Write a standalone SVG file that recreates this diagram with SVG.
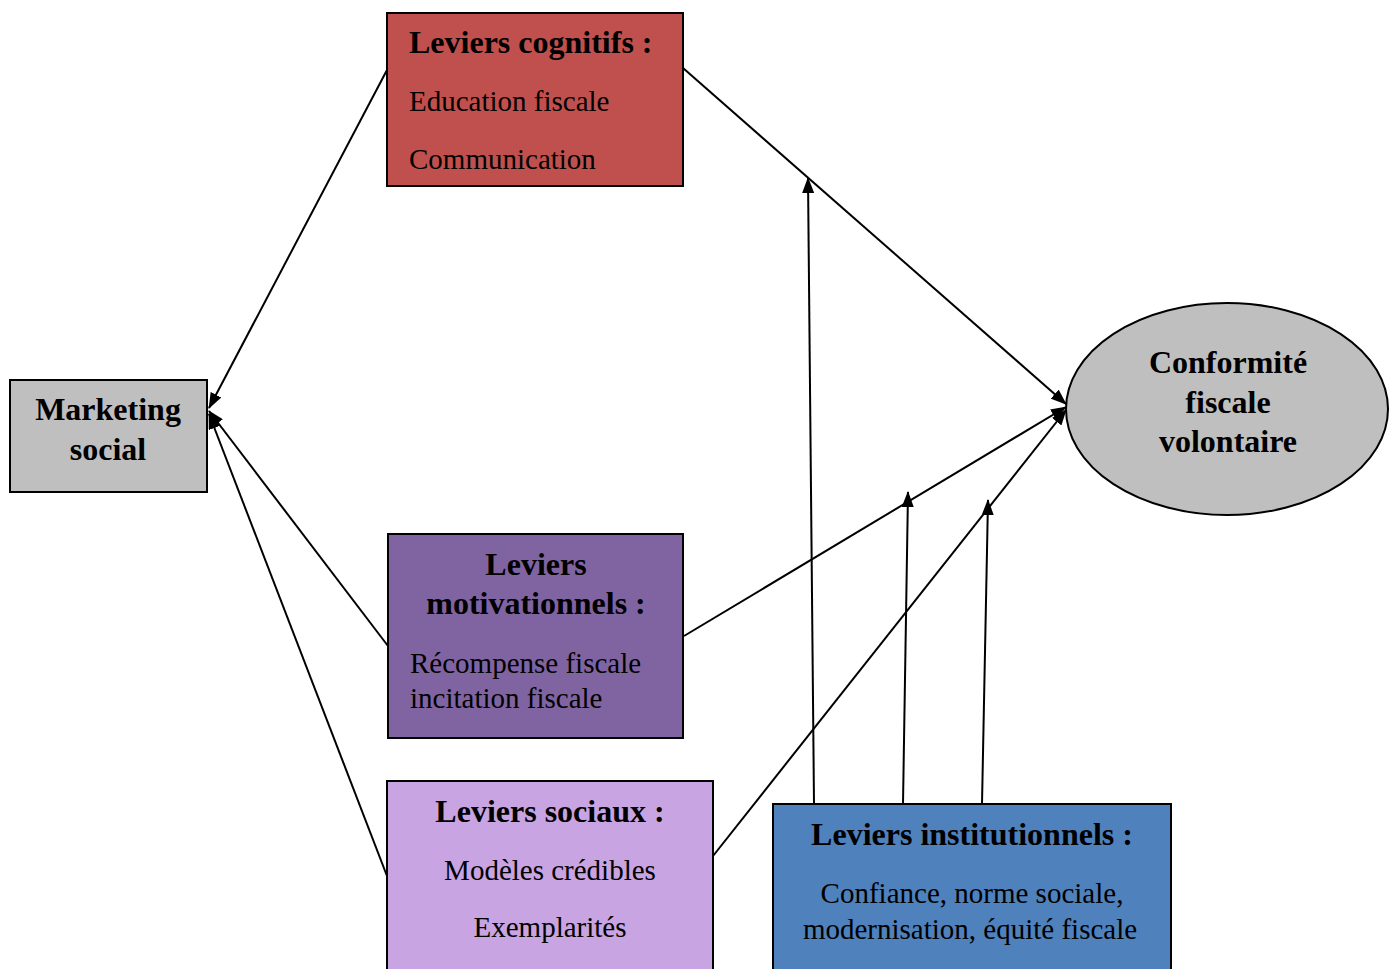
<svg xmlns="http://www.w3.org/2000/svg" width="1398" height="969" viewBox="0 0 1398 969">
<style>
text{font-family:'Liberation Serif','Times New Roman',Times,serif;fill:#000}
.box{stroke:#000;stroke-width:2}
.b{font-weight:bold;font-size:32px}
.n{font-size:29px}
.c{stroke:#000;stroke-width:2;fill:none;marker-end:url(#ah)}
</style>
<defs>
<marker id="ah" markerUnits="userSpaceOnUse" markerWidth="16" markerHeight="12" refX="15" refY="6" orient="auto">
<path d="M0,0 L16,6 L0,12 Z" fill="#000"/>
</marker>
</defs>
<rect width="1398" height="969" fill="#fff"/>
<g id="connectors">
<line class="c" x1="387" y1="70" x2="209" y2="408"/>
<line class="c" x1="388" y1="646" x2="209" y2="411"/>
<line class="c" x1="387" y1="876" x2="209" y2="414"/>
<line class="c" x1="683" y1="68" x2="1066" y2="404"/>
<line class="c" x1="684" y1="636" x2="1066" y2="407"/>
<line class="c" x1="713" y1="856" x2="1066" y2="410"/>
<line class="c" x1="814" y1="804" x2="808" y2="178"/>
<line class="c" x1="903" y1="804" x2="908" y2="492"/>
<line class="c" x1="982" y1="804" x2="988" y2="500"/>
</g>
<g id="marketing">
<rect class="box" x="10" y="380" width="197" height="112" fill="#bfbfbf"/>
<text class="b" x="108" y="420" text-anchor="middle" font-family="Liberation Serif, serif">Marketing</text>
<text class="b" x="108" y="460" text-anchor="middle" font-family="Liberation Serif, serif">social</text>
</g>
<g id="cognitifs">
<rect class="box" x="387" y="13" width="296" height="173" fill="#c0504d"/>
<text class="b" x="409" y="53">Leviers cognitifs :</text>
<text class="n" x="409" y="111">Education fiscale</text>
<text class="n" x="409" y="169">Communication</text>
</g>
<g id="motivationnels">
<rect class="box" x="388" y="534" width="295" height="204" fill="#8064a2"/>
<text class="b" x="536" y="575" text-anchor="middle">Leviers</text>
<text class="b" x="536" y="614" text-anchor="middle">motivationnels :</text>
<text class="n" x="410" y="673">Récompense fiscale</text>
<text class="n" x="410" y="708">incitation fiscale</text>
</g>
<g id="sociaux">
<rect class="box" x="387" y="781" width="326" height="200" fill="#c8a4e2"/>
<text class="b" x="550" y="822" text-anchor="middle">Leviers sociaux :</text>
<text class="n" x="550" y="880" text-anchor="middle">Modèles crédibles</text>
<text class="n" x="550" y="937" text-anchor="middle">Exemplarités</text>
</g>
<g id="institutionnels">
<rect class="box" x="773" y="804" width="398" height="180" fill="#4f81bd"/>
<text class="b" x="972" y="845" text-anchor="middle">Leviers institutionnels :</text>
<text class="n" x="972" y="903" text-anchor="middle">Confiance, norme sociale,</text>
<text class="n" x="970" y="939" text-anchor="middle">modernisation, équité fiscale</text>
</g>
<g id="conformite">
<ellipse class="box" cx="1227" cy="409" rx="161" ry="106" fill="#bfbfbf"/>
<text class="b" x="1228" y="373" text-anchor="middle">Conformité</text>
<text class="b" x="1228" y="413" text-anchor="middle">fiscale</text>
<text class="b" x="1228" y="452" text-anchor="middle">volontaire</text>
</g>
</svg>
